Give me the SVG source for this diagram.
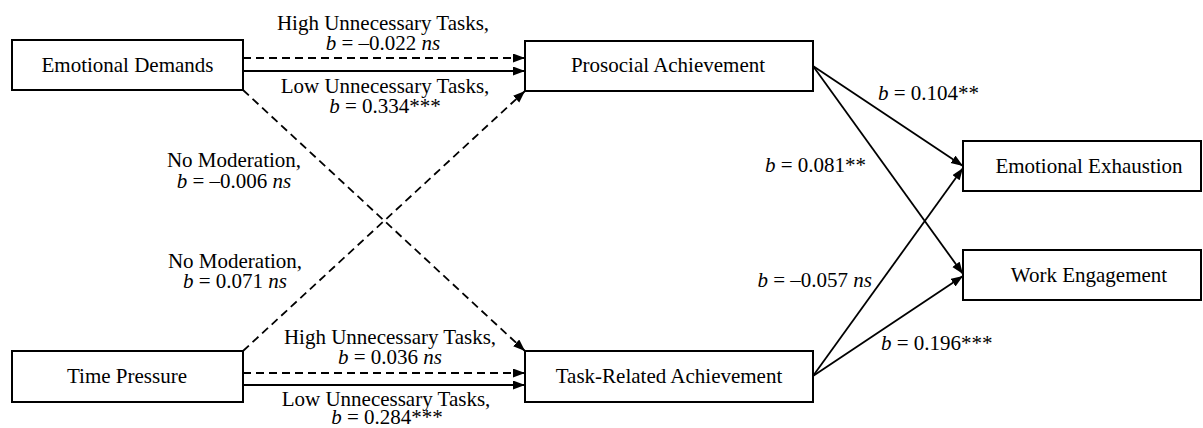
<svg xmlns="http://www.w3.org/2000/svg" width="1203" height="428" viewBox="0 0 1203 428">
  <style>
    text { font-family: "Liberation Serif", "Times New Roman", serif; font-size: 21px; fill: #000; }
    .c { text-anchor: middle; }
    .e { text-anchor: end; }
    .i { font-style: italic; }
    .box { fill: #fff; stroke: #000; stroke-width: 2; }
    .ln { fill: none; stroke: #000; stroke-width: 1.8; marker-end: url(#arrow); }
    .dash { stroke-dasharray: 8 5; }
  </style>
  <defs>
    <marker id="arrow" markerUnits="userSpaceOnUse" markerWidth="13" markerHeight="10" refX="12" refY="4.5" orient="auto">
      <path d="M0,0 L12,4.5 L0,9 Z" fill="#000"/>
    </marker>
  </defs>
  <rect width="1203" height="428" fill="#fff"/>

  <!-- connectors -->
  <g id="connectors">
    <line class="ln dash" x1="243" y1="58" x2="525" y2="58"/>
    <line class="ln" x1="243" y1="71" x2="525" y2="71"/>
    <line class="ln dash" x1="243" y1="90" x2="525" y2="351"/>
    <line class="ln dash" x1="243" y1="351" x2="525" y2="91"/>
    <line class="ln dash" x1="243" y1="373" x2="525" y2="373"/>
    <line class="ln" x1="243" y1="385" x2="525" y2="385"/>
    <line class="ln" x1="813" y1="66" x2="963" y2="166"/>
    <line class="ln" x1="813" y1="66" x2="963" y2="274"/>
    <line class="ln" x1="813" y1="376" x2="963" y2="168"/>
    <line class="ln" x1="813" y1="376" x2="963" y2="276"/>
  </g>

  <!-- path labels -->
  <g id="labels">
    <text class="c" x="383" y="30">High Unnecessary Tasks,</text>
    <text class="c" x="383" y="50"><tspan class="i">b</tspan> = –0.022 <tspan class="i">ns</tspan></text>
    <text class="c" x="385" y="93">Low Unnecessary Tasks,</text>
    <text class="c" x="385" y="113"><tspan class="i">b</tspan> = 0.334***</text>

    <text class="c" x="234" y="167">No Moderation,</text>
    <text class="c" x="234" y="188"><tspan class="i">b</tspan> = –0.006 <tspan class="i">ns</tspan></text>
    <text class="c" x="235" y="268">No Moderation,</text>
    <text class="c" x="235" y="288"><tspan class="i">b</tspan> = 0.071 <tspan class="i">ns</tspan></text>

    <text class="c" x="390" y="344">High Unnecessary Tasks,</text>
    <text class="c" x="390" y="364"><tspan class="i">b</tspan> = 0.036 <tspan class="i">ns</tspan></text>
    <text class="c" x="386" y="406">Low Unnecessary Tasks,</text>
    <text class="c" x="387" y="424"><tspan class="i">b</tspan> = 0.284***</text>

    <text x="878" y="100"><tspan class="i">b</tspan> = 0.104**</text>
    <text x="765" y="172"><tspan class="i">b</tspan> = 0.081**</text>
    <text class="e" x="872" y="287"><tspan class="i">b</tspan> = –0.057 <tspan class="i">ns</tspan></text>
    <text x="881" y="350"><tspan class="i">b</tspan> = 0.196***</text>
  </g>

  <!-- nodes -->
  <g id="emotional-demands">
    <rect class="box" x="12" y="40" width="231" height="50"/>
    <text class="c" x="127.5" y="72">Emotional Demands</text>
  </g>
  <g id="time-pressure">
    <rect class="box" x="12" y="351" width="231" height="51"/>
    <text class="c" x="127" y="383">Time Pressure</text>
  </g>
  <g id="prosocial-achievement">
    <rect class="box" x="525" y="41" width="288" height="50"/>
    <text class="c" x="668" y="72">Prosocial Achievement</text>
  </g>
  <g id="task-related-achievement">
    <rect class="box" x="525" y="351" width="288" height="51"/>
    <text class="c" x="669" y="383">Task-Related Achievement</text>
  </g>
  <g id="emotional-exhaustion">
    <rect class="box" x="963" y="141" width="238" height="50"/>
    <text class="c" x="1089" y="173">Emotional Exhaustion</text>
  </g>
  <g id="work-engagement">
    <rect class="box" x="963" y="250" width="238" height="50"/>
    <text class="c" x="1089" y="282">Work Engagement</text>
  </g>
</svg>
